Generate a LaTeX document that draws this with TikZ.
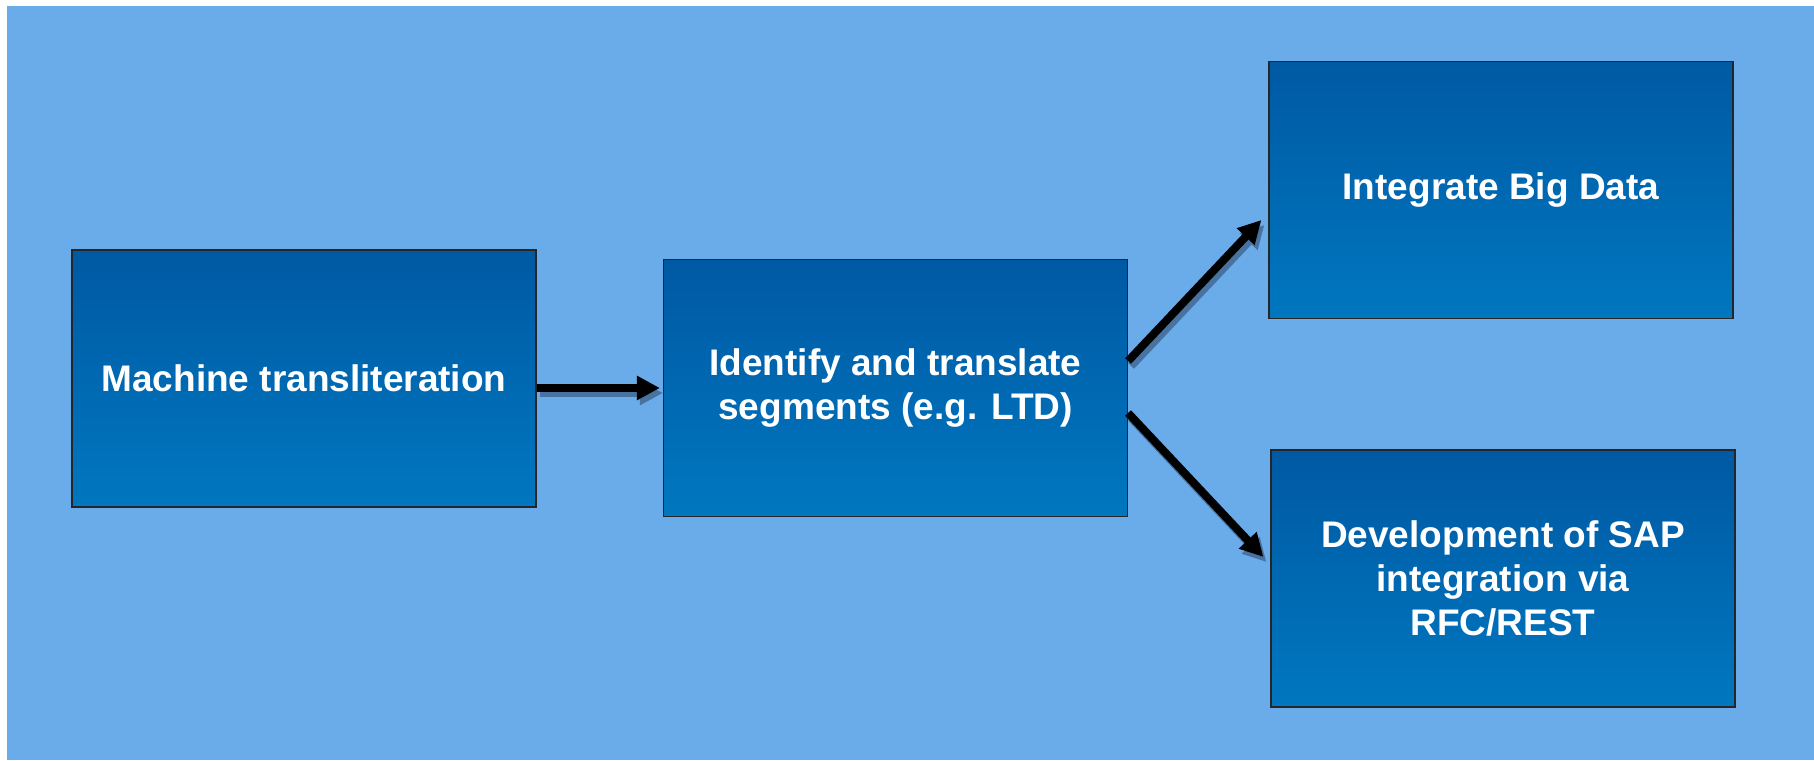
\documentclass[tikz,border=0pt]{standalone}
\usepackage{fontspec}
\setmainfont{Liberation Sans}
\usetikzlibrary{arrows.meta}
\definecolor{skyback}{RGB}{106,171,234}
\definecolor{boxtop}{RGB}{0,89,163}
\definecolor{boxbottom}{RGB}{0,119,192}
\definecolor{shadowblue}{RGB}{72,114,160}
\tikzset{
  stepbox/.style={draw=black!85, line width=0.6pt, top color=boxtop, bottom color=boxbottom,
    minimum width=232pt, minimum height=128.5pt, align=center, text=white,
    font=\fontsize{18.5}{22}\selectfont\bfseries},
  flow/.style={line width=4pt, -{Triangle[length=11.5pt,width=11.5pt]}},
  flowshadow/.style={flow, draw=shadowblue, transform canvas={shift={(1.5pt,-2.5pt)}}}
}
\begin{document}
\begin{tikzpicture}[node distance=295.75pt]
\useasboundingbox (0,0) rectangle (907pt,-380pt);
\fill[skyback] (3.5pt,-3pt) rectangle (907pt,-380pt);

\node[stepbox] (mt) at (152pt,-189.25pt) {Machine transliteration};
\node[stepbox, right of=mt, yshift=-4.75pt] (it) {Identify and translate\\segments (e.g. LTD)};
\node[stepbox, right of=it, xshift=7pt, yshift=99pt] (bd) {Integrate Big Data};
\node[stepbox, node distance=194.25pt, below of=bd, xshift=1pt] (dv) {Development of SAP\\integration via\\RFC/REST};

\draw[flowshadow] (mt.east |- it.west) -- ([xshift=-1.5pt]it.west);
\draw[flow] (mt.east |- it.west) -- ([xshift=-1.5pt]it.west);
\draw[flowshadow] ([yshift=13.5pt]it.east) -- ([shift={(-3.5pt,-15pt)}]bd.west);
\draw[flow] ([yshift=13.5pt]it.east) -- ([shift={(-3.5pt,-15pt)}]bd.west);
\draw[flowshadow] ([yshift=-12.5pt]it.east) -- ([shift={(-3.5pt,10.75pt)}]dv.west);
\draw[flow] ([yshift=-12.5pt]it.east) -- ([shift={(-3.5pt,10.75pt)}]dv.west);
\end{tikzpicture}
\end{document}
